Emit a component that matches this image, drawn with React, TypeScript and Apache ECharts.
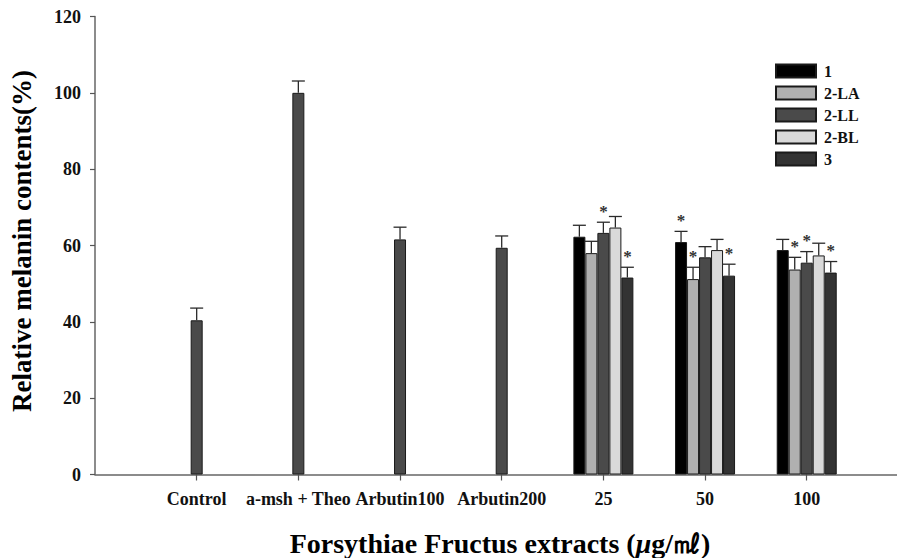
import React, { useEffect, useRef } from "react";
import * as echarts from "echarts";

const categories = ["", "Control", "a-msh + Theo", "Arbutin100", "Arbutin200", "25", "50", "100", ""];
const seriesNames = ["1", "2-LA", "2-LL", "2-BL", "3"];
const seriesColors = ["#000000", "#b0b0b0", "#4a4a4a", "#d9d9d9", "#333333"];

// single bars (drawn in the middle series) for Control, a-msh + Theo, Arbutin100, Arbutin200
const refMeans = [40.4, 100, 61.6, 59.4];
const refSD = [3.2, 3.1, 3.2, 3.1];

// dose groups 25, 50, 100
const doseMeans = [
  [62.3, 60.9, 58.8],
  [58.0, 51.2, 53.7],
  [63.3, 56.9, 55.5],
  [64.7, 58.8, 57.4],
  [51.6, 52.1, 52.9],
];
const doseSD = [
  [3.0, 2.8, 2.8],
  [3.1, 3.1, 3.2],
  [2.8, 2.8, 2.9],
  [2.9, 2.8, 3.2],
  [2.7, 3.0, 2.9],
];
const doseStars = [
  [0, 1, 0],
  [0, 1, 1],
  [1, 0, 1],
  [0, 0, 0],
  [1, 1, 1],
];

const yTicks = [0, 20, 40, 60, 80, 100, 120];

const FONT = "'Liberation Serif', 'Times New Roman', serif";
const BAR_W = 12;
const CHART_W = 920;

export default function App() {
  const ref = useRef<HTMLDivElement>(null);
  useEffect(() => {
    if (!ref.current) return;
    const chart = echarts.init(ref.current, null, { renderer: "svg" });

    const barSeries: any[] = seriesNames.map((name, s) => {
      const data: any[] = categories.map(() => "-");
      if (s === 2) refMeans.forEach((v, i) => (data[i + 1] = v));
      doseMeans[s].forEach((v, i) => (data[i + 5] = v));
      return {
        name,
        type: "bar",
        barWidth: BAR_W,
        barGap: "0%",
        data,
        itemStyle: { color: seriesColors[s], borderColor: "#1a1a1a", borderWidth: 1 },
        emphasis: { disabled: true },
      };
    });

    const errData: any[] = [];
    refMeans.forEach((v, i) => errData.push([i + 1, v, v + refSD[i], 2, 0]));
    doseMeans.forEach((arr, s) =>
      arr.forEach((v, i) => errData.push([i + 5, v, v + doseSD[s][i], s, doseStars[s][i]]))
    );

    const errSeries = {
      type: "custom",
      name: "err",
      data: errData,
      z: 5,
      renderItem: (params: any, api: any) => {
        const c = api.value(0);
        const p = api.coord([c, api.value(1)]);
        const e = api.coord([c, api.value(2)]);
        const x = p[0] + (api.value(3) - 2) * BAR_W;
        const children: any[] = [
          { type: "line", shape: { x1: x, y1: p[1], x2: x, y2: e[1] }, style: { stroke: "#2a2a2a", lineWidth: 1.3 } },
          { type: "line", shape: { x1: x - 6.5, y1: e[1], x2: x + 6.5, y2: e[1] }, style: { stroke: "#2a2a2a", lineWidth: 1.3 } },
        ];
        if (api.value(4)) {
          children.push({
            type: "text",
            x,
            y: e[1] - 11,
            style: {
              text: "*",
              fill: "#333",
              font: `bold 17px ${FONT}`,
              textAlign: "center",
              textVerticalAlign: "middle",
            },
          });
        }
        return { type: "group", children };
      },
    };

    chart.setOption({
      animation: false,
      backgroundColor: "#ffffff",
      grid: { left: 95, top: 16.5, bottom: 83.5, right: CHART_W - 908.4, containLabel: false },
      legend: {
        data: seriesNames,
        orient: "vertical",
        left: 775,
        top: 63,
        padding: 0,
        itemWidth: 40,
        itemHeight: 13,
        itemGap: 6,
        icon: "rect",
        textStyle: { fontFamily: FONT, fontWeight: "bold", fontSize: 16, color: "#111", lineHeight: 13, padding: [0, 0, 0, 3] },
        selectedMode: false,
      },
      xAxis: {
        type: "category",
        data: categories,
        boundaryGap: false,
        axisLine: { lineStyle: { color: "#666", width: 1.5 } },
        axisTick: {
          length: 6,
          inside: false,
          lineStyle: { color: "#555", width: 1.2 },
          interval: (i: number, v: string) => v !== "",
        },
        axisLabel: {
          interval: 0,
          fontFamily: FONT,
          fontWeight: "bold",
          fontSize: 18,
          color: "#111",
          margin: 15,
        },
        splitLine: { show: false },
      },
      yAxis: {
        type: "value",
        min: 0,
        max: 120,
        interval: 20,
        axisLine: { show: true, lineStyle: { color: "#666", width: 1.5 } },
        axisTick: { show: true, length: 5, lineStyle: { color: "#555", width: 1.2 } },
        axisLabel: {
          fontFamily: FONT,
          fontWeight: "bold",
          fontSize: 18,
          color: "#111",
          margin: 14,
          formatter: (v: number) => (yTicks.includes(v) ? String(v) : ""),
        },
        splitLine: { show: false },
      },
      graphic: [
        {
          type: "text",
          x: 22,
          y: 241,
          rotation: Math.PI / 2,
          style: {
            text: "Relative melanin contents(%)",
            font: `bold 27px ${FONT}`,
            fill: "#000",
            textAlign: "center",
            textVerticalAlign: "middle",
          },
        },
        {
          type: "text",
          x: 500,
          y: 543,
          style: {
            text: "{a|Forsythiae Fructus extracts (}{b|μ}{a|g/㎖)}",
            textAlign: "center",
            textVerticalAlign: "middle",
            rich: {
              a: { font: `bold 28px ${FONT}`, fill: "#000" },
              b: { font: `italic bold 28px ${FONT}`, fill: "#000" },
            },
          },
        },
      ],
      series: [...barSeries, errSeries],
    });
    return () => chart.dispose();
  }, []);
  return (
    <div style={{ position: "fixed", left: 0, top: 0, width: 897, height: 558, overflow: "hidden", background: "#fff" }}>
      <div ref={ref} style={{ width: CHART_W, height: 558 }} />
    </div>
  );
}
